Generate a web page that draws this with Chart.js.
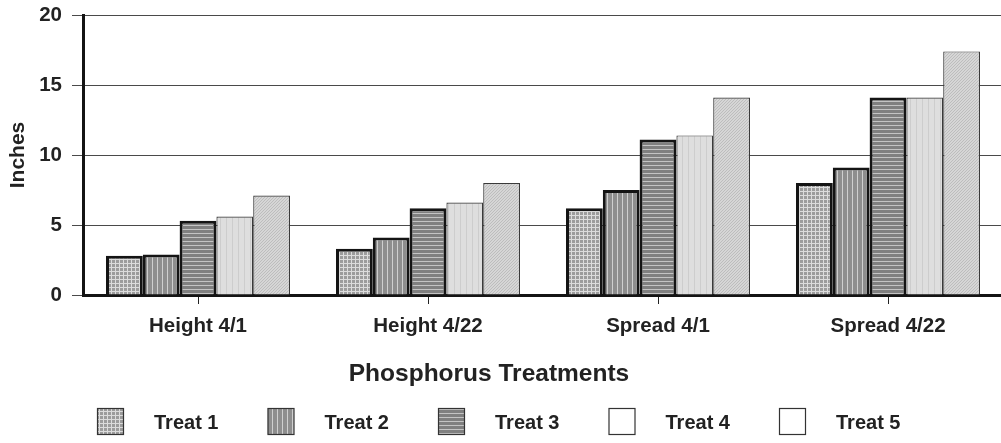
<!DOCTYPE html>
<html>
<head>
<meta charset="utf-8">
<script src="https://cdn.jsdelivr.net/npm/chart.js@4.4.0/dist/chart.umd.min.js"></script>
<style>
  html, body { margin: 0; padding: 0; background: #fff; overflow: hidden; }
  #wrap { width: 1004px; height: 443px; position: relative; }
</style>
</head>
<body>
<div id="wrap"><canvas id="chart"></canvas></div>
<script>
// data
const categories = ['Height 4/1', 'Height 4/22', 'Spread 4/1', 'Spread 4/22'];
const seriesNames = ['Treat 1', 'Treat 2', 'Treat 3', 'Treat 4', 'Treat 5'];
const treat1 = [2.8, 3.3, 6.2, 8.0];
const treat2 = [2.9, 4.1, 7.5, 9.1];
const treat3 = [5.3, 6.2, 11.1, 14.1];
const treat4 = [5.6, 6.6, 11.4, 14.1];
const treat5 = [7.1, 8.0, 14.1, 17.4];
const yTicks = [0, 5, 10, 15, 20];
const xTitle = 'Phosphorus Treatments';
const yTitle = 'Inches';

const FONT = '"Liberation Sans", Arial, sans-serif';

// little fill textures like the scanned print
function makePattern(size, draw) {
  const c = document.createElement('canvas');
  c.width = size; c.height = size;
  const g = c.getContext('2d');
  draw(g, size);
  return g.createPattern(c, 'repeat');
}
const patGrid = makePattern(4, (g, s) => {
  g.fillStyle = '#9c9c9c'; g.fillRect(0, 0, s, s);
  g.fillStyle = '#dcdcdc'; g.fillRect(3, 0, 1, s); g.fillRect(0, 3, s, 1);
});
const patVert = makePattern(5, (g, s) => {
  g.fillStyle = '#8e8e8e'; g.fillRect(0, 0, s, s);
  g.fillStyle = '#cfcfcf'; g.fillRect(2, 0, 1, s);
});
const patHorz = makePattern(4, (g, s) => {
  g.fillStyle = '#808080'; g.fillRect(0, 0, s, s);
  g.fillStyle = '#c4c4c4'; g.fillRect(0, 1, s, 1);
});
const patLight = makePattern(6, (g, s) => {
  g.fillStyle = '#dedede'; g.fillRect(0, 0, s, s);
  g.fillStyle = '#cdcdcd'; g.fillRect(4, 0, 1, s);
});
const patDiag = makePattern(6, (g, s) => {
  g.fillStyle = '#d6d6d6'; g.fillRect(0, 0, s, s);
  g.strokeStyle = '#bdbdbd'; g.lineWidth = 1;
  g.beginPath();
  for (let i = -s; i <= s; i += 3) { g.moveTo(i, s); g.lineTo(i + s, 0); }
  g.stroke();
});

const fills = [patGrid, patVert, patHorz, patLight, patDiag];
const legendFills = [patGrid, patVert, patHorz, '#ffffff', '#ffffff'];
const borderW = [3, 3, 3, 1.2, 1.2];
const borderC = ['#141414', '#141414', '#141414', '#3a3a3a', '#3a3a3a'];
const values = [treat1, treat2, treat3, treat4, treat5];

const datasets = seriesNames.map((name, i) => ({
  label: name,
  data: values[i],
  backgroundColor: fills[i],
  borderColor: borderC[i],
  borderWidth: borderW[i],
  borderSkipped: 'bottom'
}));

// axis title (sits a bit left of the plot centre) and legend row
const bottomText = {
  id: 'bottomText',
  afterDraw(chart) {
    const ctx = chart.ctx;
    ctx.save();
    ctx.textBaseline = 'middle';
    ctx.textAlign = 'center';
    ctx.fillStyle = '#222';
    ctx.font = 'bold 24.5px ' + FONT;
    ctx.fillText(xTitle, 489, 374);

    ctx.textAlign = 'left';
    ctx.font = 'bold 20px ' + FONT;
    chart.data.datasets.forEach((ds, i) => {
      const x = 97 + i * 170.5;
      const y = 408;
      ctx.fillStyle = legendFills[i];
      ctx.fillRect(x, y, 26, 26);
      ctx.strokeStyle = '#333';
      ctx.lineWidth = 1.2;
      ctx.strokeRect(x + 0.5, y + 0.5, 26, 26);
      ctx.fillStyle = '#222';
      ctx.fillText(ds.label, x + 57, y + 15);
    });
    ctx.restore();
  }
};

new Chart(document.getElementById('chart'), {
  type: 'bar',
  data: { labels: categories, datasets: datasets },
  options: {
    responsive: true,
    maintainAspectRatio: false,
    animation: false,
    layout: { padding: { top: 15, right: 1, left: 0, bottom: 0 } },
    datasets: { bar: { categoryPercentage: 0.8, barPercentage: 1.0 } },
    plugins: { legend: { display: false }, tooltip: { enabled: false } },
    scales: {
      x: {
        z: 1,
        afterFit: s => { s.height = 148; s.paddingLeft = 0; s.paddingRight = 0; },
        grid: { display: true, drawOnChartArea: false, offset: false, tickLength: 9, color: '#222', lineWidth: 1 },
        border: { display: true, color: '#141414', width: 3 },
        ticks: { color: '#222', padding: 10, font: { family: FONT, size: 20.5, weight: 'bold' } }
      },
      y: {
        min: 0, max: 20,
        afterFit: s => { s.width = 83; s.paddingTop = 0; s.paddingBottom = 0; },
        afterBuildTicks: s => { s.ticks = yTicks.map(v => ({ value: v })); },
        grid: { color: '#4a4a4a', lineWidth: 1, tickLength: 11, tickColor: '#4a4a4a' },
        border: { display: true, color: '#141414', width: 3 },
        ticks: { color: '#222', padding: 10, font: { family: FONT, size: 20.5, weight: 'bold' } },
        title: {
          display: true, text: yTitle, color: '#222',
          font: { family: FONT, size: 21, weight: 'bold' },
          padding: { top: 6, bottom: 0 }
        }
      }
    }
  },
  plugins: [bottomText]
});
</script>
</body>
</html>
